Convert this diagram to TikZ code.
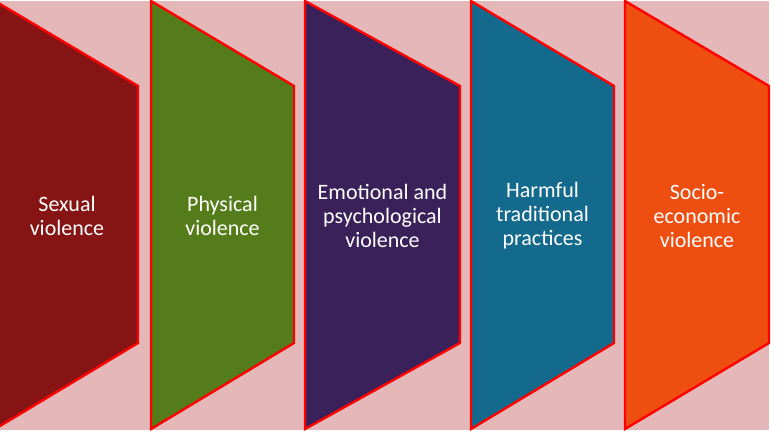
\documentclass[tikz,border=0pt]{standalone}
\usepackage{fontspec}
\setmainfont{Carlito}
\definecolor{bgpink}{HTML}{E4B8B8}
\definecolor{edgered}{HTML}{FF0000}
\definecolor{cA}{HTML}{871414}
\definecolor{cB}{HTML}{547C1A}
\definecolor{cC}{HTML}{3A215A}
\definecolor{cD}{HTML}{136A8D}
\definecolor{cE}{HTML}{EE4E10}
\tikzset{
  panel/.style={draw=edgered, line width=2.4pt, line join=miter},
  label/.style={text=white, align=center, font=\fontsize{22}{24}\selectfont, inner sep=0pt}
}
\begin{document}
\begin{tikzpicture}[x=1pt,y=-1pt]
\useasboundingbox (0,0) rectangle (784,434);
\fill[white] (0,0) rectangle (784,434);
\fill[bgpink] (0,1) rectangle (769,430);
% panels
\foreach \L/\R/\c in {-5/138/cA, 151/294/cB, 305/460/cC, 471/614/cD, 625/769/cE}{
  \filldraw[panel, fill=\c] (\L,1) -- (\R,86) -- (\R,343) -- (\L,429) -- cycle;
}
\node[label] (t1) at (67,216) {Sexual\\violence};
\node[label] (t2) at (222.5,216) {Physical\\violence};
\node[label] (t3) at (382.5,216) {Emotional and\\psychological\\violence};
\node[label] (t4) at (542.5,216) {Harmful\\traditional\\practices};
\node[label] (t5) at (697,216) {Socio-\\economic\\violence};
\end{tikzpicture}
\end{document}
